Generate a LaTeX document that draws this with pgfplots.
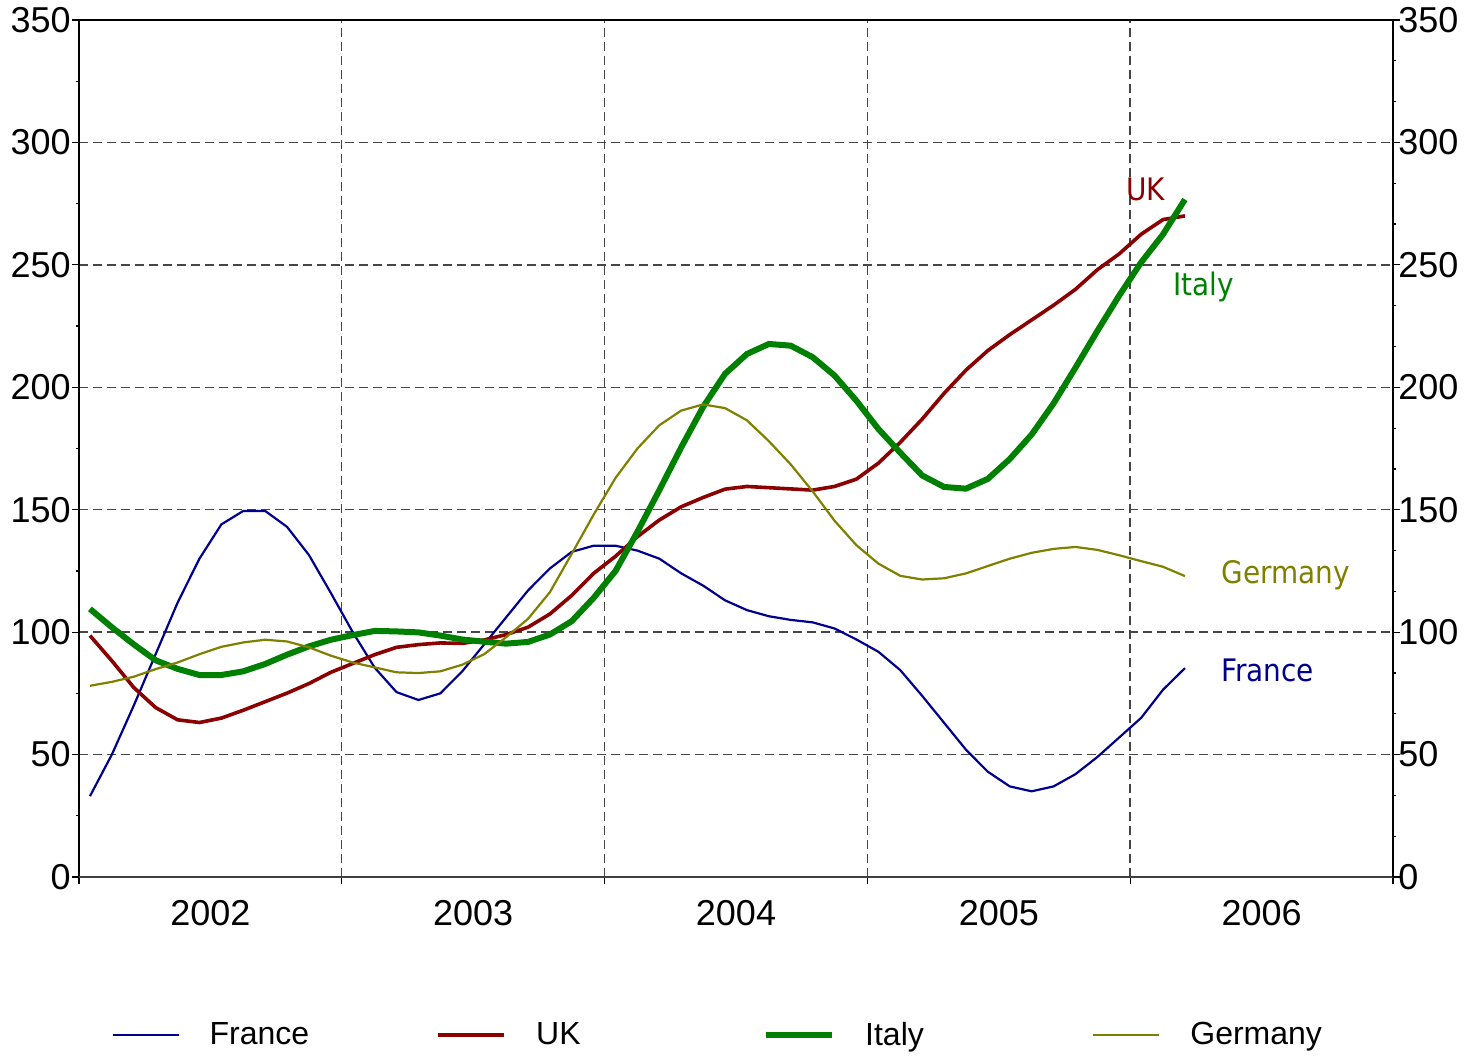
\documentclass[border=0pt]{standalone}
\usepackage{fontspec}
\setmainfont{Liberation Sans}
\newfontfamily\labfont{DejaVu Sans Condensed}
\usepackage{pgfplots}
\usepackage{pgfplotstable}
\pgfplotsset{compat=1.18}

\definecolor{cfrance}{RGB}{0,0,140}
\definecolor{cuk}{RGB}{139,0,0}
\definecolor{citaly}{RGB}{0,128,0}
\definecolor{cgermany}{RGB}{128,128,0}
\definecolor{gridc}{RGB}{70,70,70}

% x = months since Jan 2002 (mid-month)
\pgfplotstableread{
x     france uk    italy germany
0.5   33     98.6  109.5 78.1
1.5   50     88.3  102   79.7
2.5   70     77.4  95    81.8
3.5   91     69.2  88.5  84.9
4.5   112    64.2  85    87.6
5.5   130    63.1  82.5  91
6.5   144    64.9  82.5  94
7.5   149.5  68.1  84    95.8
8.5   149.5  71.6  87    96.9
9.5   143    75.1  90.8  96.2
10.5  131.5  79    94.2  93.8
11.5  116    83.6  96.9  90.4
12.5  100    87.2  98.8  87.6
13.5  85.5   90.8  100.5 85.6
14.5  75.5   93.8  100.3 83.6
15.5  72.3   94.9  99.9  83.3
16.5  75     95.6  98.6  84
17.5  84     95.4  97    86.7
18.5  95     96.8  96.1  91
19.5  106    99    95.3  97.9
20.5  117    102   96    105.4
21.5  126    107.4 99    116.3
22.5  132.8  115   104.5 132
23.5  135.3  124   114   148
24.5  135.3  131   125   163
25.5  133.3  139   141   175
26.5  130    145.8 158   184.5
27.5  124    151.2 175.5 190.5
28.5  119    155   192   193
29.5  113    158.4 205.5 191.5
30.5  109    159.5 213.6 186.5
31.5  106.5  159   217.7 178
32.5  105    158.5 217   168.5
33.5  104    158   212.3 157.5
34.5  101.5  159.5 204.8 145.5
35.5  97     162.5 194.5 135.5
36.5  92     169   183   128
37.5  84.5   177.5 173.3 123
38.5  74     187   164   121.5
39.5  63     197.5 159.3 122
40.5  52     207   158.6 124
41.5  43     215   162.6 127
42.5  37     221.5 170.7 130
43.5  35     227.5 180.7 132.4
44.5  37     233.5 193.4 134
45.5  42     240   208   134.8
46.5  49     248   223   133.6
47.5  57     254.5 237.5 131.4
48.5  65     262.5 251   129
49.5  76.5   268.5 262.5 126.7
50.5  85.3   270   276.7 122.9
}\data

\begin{document}
\begin{tikzpicture}
\begin{axis}[
    at={(0,0)}, anchor=south west,
    scale only axis,
    width=657pt, height=428.5pt,
    xmin=0, xmax=60, ymin=0, ymax=350,
    xtick={0,12,24,36,48,60},
    xticklabels={},
    extra x ticks={6,18,30,42,54},
    extra x tick labels={2002,2003,2004,2005,2006},
    extra x tick style={grid=none, major tick length=0pt},
    ytick={0,50,...,350},
    minor y tick num=1,
    tick pos=left,
    tick align=outside,
    major tick length=3.5pt,
    minor tick length=1.5pt,
    tick style={black, line width=0.6pt},
    grid=major,
    major grid style={gridc, line width=0.7pt, dash pattern=on 4.5pt off 2.5pt},
    axis line style={black, line width=0.7pt},
    /pgf/number format/assume math mode=true,
    ticklabel style={font=\fontsize{18}{20}\selectfont},
    yticklabel style={inner xsep=0pt, xshift=-0.5pt},
    xticklabel style={inner ysep=0pt, yshift=-11.5pt},
    legend columns=4,
    legend style={at={(0,0)}, anchor=west, xshift=16pt, yshift=-79pt,
        draw=none, fill=none, inner sep=0pt, column sep=0pt,
        font=\fontsize{16}{18}\selectfont,
        nodes={inner sep=0pt}},
    legend image code/.code={\draw[#1] (0pt,0pt) -- (33pt,0pt);},
]
\addplot[cfrance, line width=1.1pt] table[x=x, y=france] {\data};
\addlegendentry{\hspace*{15pt}\makebox[113.5pt][l]{France}}
\addplot[cuk, line width=1.8pt] table[x=x, y=uk] {\data};
\addlegendentry{\hspace*{15pt}\makebox[113.5pt][l]{UK}}
\addplot[citaly, line width=3pt] table[x=x, y=italy] {\data};
\addlegendentry{\hspace*{15pt}\makebox[113.5pt][l]{Italy}}
\addplot[cgermany, line width=1.1pt] table[x=x, y=germany] {\data};
\addlegendentry{\hspace*{15pt}\makebox[113.5pt][l]{Germany}}

\draw[black!75, line width=1pt] (rel axis cs:0,0) -- (rel axis cs:1,0);

\node[anchor=west, inner sep=0pt, text=cuk, font=\labfont\fontsize{15.5}{17}\selectfont] at (axis cs:47.8,281) {UK};
\node[anchor=west, inner sep=0pt, text=citaly, font=\labfont\fontsize{15.5}{17}\selectfont] at (axis cs:49.95,241) {Italy};
\node[anchor=west, inner sep=0pt, text=cgermany, font=\labfont\fontsize{15.5}{17}\selectfont] at (axis cs:52.15,123.3) {Germany};
\node[anchor=west, inner sep=0pt, text=cfrance, font=\labfont\fontsize{15.5}{17}\selectfont] at (axis cs:52.15,84.5) {France};
\end{axis}
\begin{axis}[
    at={(0,0)}, anchor=south west,
    scale only axis,
    width=657pt, height=428.5pt,
    xmin=0, xmax=60, ymin=0, ymax=350,
    axis x line=none,
    axis y line*=right,
    ytick={0,50,...,350},
    minor y tick num=2,
    tick align=outside,
    major tick length=3.5pt,
    minor tick length=1.5pt,
    tick style={black, line width=0.6pt},
    axis line style={black, line width=0.7pt},
    /pgf/number format/assume math mode=true,
    ticklabel style={font=\fontsize{18}{20}\selectfont},
    yticklabel style={inner xsep=0pt, xshift=-1pt},
]
\end{axis}
\pgfresetboundingbox
\useasboundingbox (-39.5pt,-90pt) rectangle (694pt,438.5pt);
\end{tikzpicture}
\end{document}
